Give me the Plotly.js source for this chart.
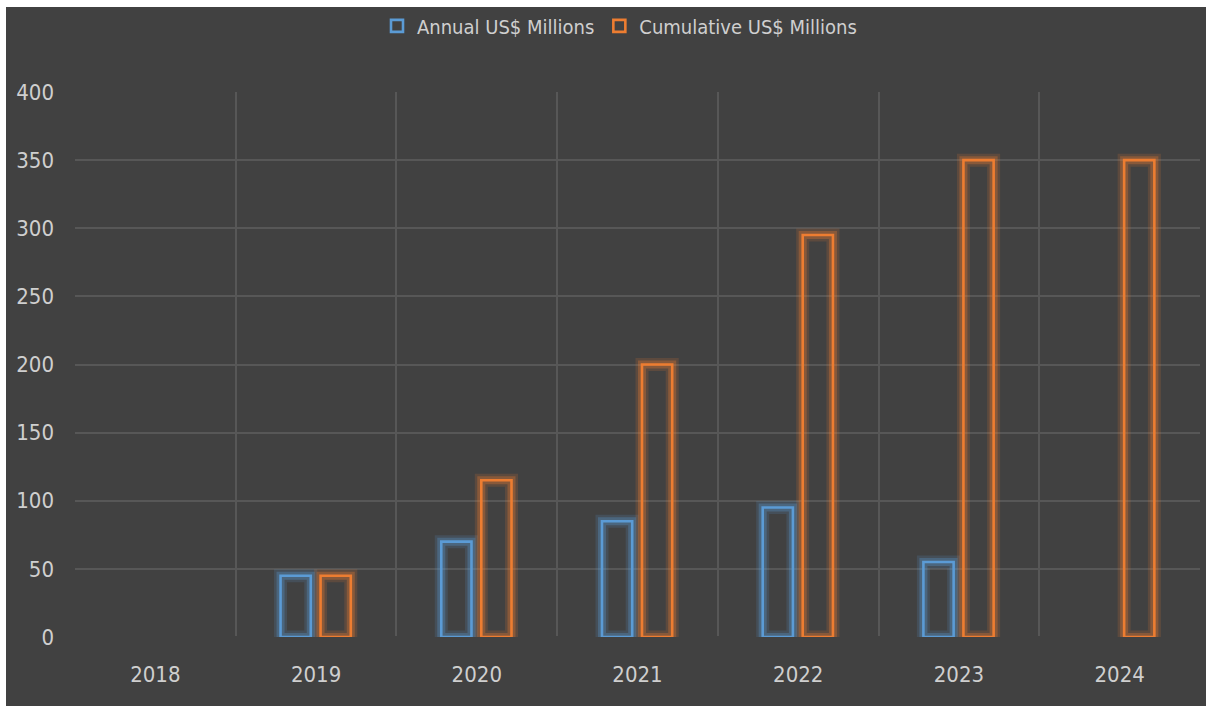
<!DOCTYPE html>
<html>
<head>
<meta charset="utf-8">
<script src="https://cdn.plot.ly/plotly-3.0.1.min.js"></script>
<style>
  html, body { margin: 0; padding: 0; background: #ffffff; }
  #chart { position: absolute; left: 6px; top: 7px; width: 1200px; height: 699px; }
</style>
</head>
<body>
<div id="chart"></div>
<script>
// ---- data ----
const years = ["2018", "2019", "2020", "2021", "2022", "2023", "2024"];
const annual = [null, 45, 70, 85, 95, 55, null];
const cumulative = [null, 45, 115, 200, 295, 350, 350];
const seriesNames = ["Annual US$ Millions", "Cumulative US$ Millions"];
const yTicks = [0, 50, 100, 150, 200, 250, 300, 350, 400];

// ---- style ----
const BLUE = "#5b9bd5";
const ORANGE = "#ed7d31";
const FONT = "'Liberation Sans Narrow', 'DejaVu Sans Condensed', 'Liberation Sans', sans-serif";
const W = 0.188;
const OFF_A = -0.221;
const OFF_C = 0.028;

function glow(y, color, off, lw, op) {
  return {
    type: "bar", x: years, y: y, width: W, offset: off,
    marker: { color: "rgba(0,0,0,0)", line: { color: color, width: lw } },
    opacity: op, showlegend: false, hoverinfo: "skip"
  };
}
function main(y, name, color, off) {
  return {
    type: "bar", name: name, x: years, y: y, width: W, offset: off,
    marker: { color: "rgba(0,0,0,0)", line: { color: color, width: 2.6 } }
  };
}

const traces = [
  glow(annual, BLUE, OFF_A, 13, 0.16),
  glow(cumulative, ORANGE, OFF_C, 13, 0.16),
  glow(annual, BLUE, OFF_A, 8, 0.3),
  glow(cumulative, ORANGE, OFF_C, 8, 0.3),
  main(annual, seriesNames[0], BLUE, OFF_A),
  main(cumulative, seriesNames[1], ORANGE, OFF_C)
];

const layout = {
  width: 1200, height: 699,
  paper_bgcolor: "#414141",
  plot_bgcolor: "#414141",
  barmode: "overlay",
  margin: { l: 69, r: 6, t: 85, b: 69 },
  font: { family: FONT, color: "#cfcfcf", size: 22 },
  showlegend: true,
  legend: {
    orientation: "h",
    x: 0.484, xanchor: "center",
    yref: "container", y: 0.973, yanchor: "middle",
    font: { family: FONT, size: 20, color: "#cfcfcf" },
    bgcolor: "rgba(0,0,0,0)",
    traceorder: "normal"
  },
  xaxis: {
    type: "category",
    tickson: "boundaries",
    showgrid: true, gridcolor: "#575757", gridwidth: 1.5,
    ticks: "", showline: false, zeroline: false,
    ticklabelstandoff: 22,
    tickfont: { family: FONT, size: 22, color: "#cfcfcf" },
    range: [-0.5, 6.5]
  },
  yaxis: {
    range: [0, 400],
    tickvals: yTicks,
    showgrid: true, gridcolor: "#575757", gridwidth: 1.5,
    zeroline: true, zerolinecolor: "#414141", zerolinewidth: 2,
    showline: false, ticks: "",
    ticklabelstandoff: 20,
    tickfont: { family: FONT, size: 22, color: "#cfcfcf" }
  }
};

Plotly.newPlot("chart", traces, layout, { displayModeBar: false, responsive: false });
</script>
</body>
</html>
